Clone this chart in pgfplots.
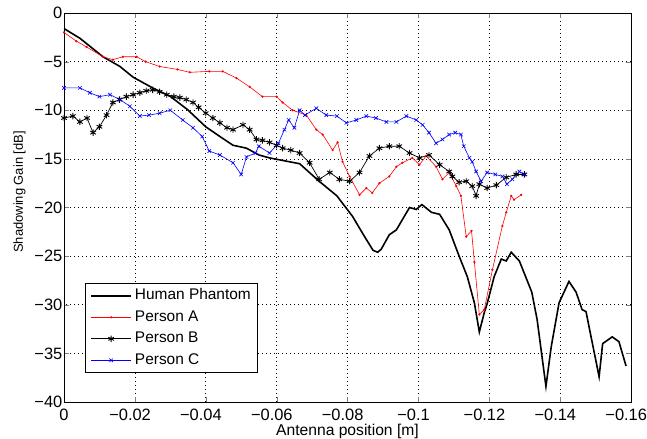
\documentclass[border=0pt]{standalone}
\usepackage{fontspec}
\setmainfont{Liberation Sans}
\usepackage{pgfplots}
\pgfplotsset{compat=1.18}
\newcommand{\m}{\llap{−}}
\begin{document}
\begin{tikzpicture}
\begin{axis}[
    at={(0,0)}, anchor=south west,
    scale only axis, width=567bp, height=389bp,
    xmin=-0.16, xmax=0, ymin=-40, ymax=0,
    x dir=reverse,
    xtick={-0.16,-0.14,-0.12,-0.1,-0.08,-0.06,-0.04,-0.02,0},
    xticklabels={\m0.16,\m0.14,\m0.12,\m0.1,\m0.08,\m0.06,\m0.04,\m0.02,0},
    ytick={-40,-35,-30,-25,-20,-15,-10,-5,0},
    yticklabels={−40,−35,−30,−25,−20,−15,−10,−5,0},
    grid=major,
    major grid style={black, line width=0.6bp, dash pattern=on 1bp off 3bp},
    tick align=inside, tick pos=both, major tick length=5bp,
    axis line style={line width=0.8bp},
    tick label style={font=\fontsize{16.5}{19}\selectfont},
    yticklabel style={inner xsep=1.5bp},
    xticklabel style={inner ysep=4bp, yshift=-2.5bp},
    xlabel={Antenna position [m]},
    xlabel style={font=\fontsize{15.7}{18}\selectfont, yshift=4bp},
    ylabel={Shadowing Gain [dB]},
    ylabel style={font=\fontsize{13}{15}\selectfont,
        at={(axis description cs:-0.0785,0.54)}, anchor=center},
    legend cell align=left,
    legend style={at={(axis description cs:0.037,0.074)}, anchor=south west,
        draw=black, line width=0.8bp, font=\fontsize{15.5}{18}\selectfont,
        inner xsep=5bp, inner ysep=3.5bp, row sep=3.5bp, column sep=1bp,
        nodes={inner sep=2bp, text height=11bp, text depth=3bp}},
    legend image code/.code={%
        \draw[mark repeat=2,mark phase=2] plot coordinates {(0bp,0bp) (20bp,0bp) (40bp,0bp)};},
]
% Human Phantom
\addplot[black, line width=1.6bp] coordinates {
(0,-1.6) (-0.0045,-2.6) (-0.011,-4.5) (-0.0158,-5.5) (-0.0195,-6.6)
(-0.025,-7.7) (-0.0301,-8.6) (-0.0349,-9.95) (-0.040,-11.7) (-0.044,-12.7)
(-0.0477,-13.6) (-0.0515,-13.9) (-0.055,-14.6) (-0.058,-14.9) (-0.0665,-15.5)
(-0.072,-17.3) (-0.077,-18.8) (-0.0814,-20.9) (-0.0845,-22.8) (-0.0872,-24.4)
(-0.0885,-24.6) (-0.0895,-24.3) (-0.0918,-22.8) (-0.0938,-22.3) (-0.0975,-20.0)
(-0.0994,-20.2) (-0.101,-19.7) (-0.1037,-20.5) (-0.106,-20.7) (-0.1087,-22.3)
(-0.1115,-25.0) (-0.1138,-27.1) (-0.1158,-29.8) (-0.1172,-32.8) (-0.1186,-30.8)
(-0.1194,-29.9) (-0.1214,-27.1) (-0.1234,-25.3) (-0.1248,-25.5) (-0.1262,-24.6)
(-0.1285,-25.5) (-0.132,-28.7) (-0.1335,-31.5) (-0.136,-38.4) (-0.1375,-34.3)
(-0.1397,-29.8) (-0.1425,-27.6) (-0.1445,-28.7) (-0.1462,-30.5) (-0.1473,-30.7)
(-0.151,-37.4) (-0.152,-34.0) (-0.1547,-33.3) (-0.1566,-33.8) (-0.1586,-36.3)
};
\addlegendentry{Human Phantom\hspace{12bp}}
% Person A
\addplot[red, line width=0.6bp, mark=*, mark size=0.8bp] coordinates {
(0,-2.0) (-0.0035,-2.9) (-0.0064,-3.5) (-0.011,-4.5) (-0.0138,-4.8)
(-0.0166,-4.5) (-0.0205,-4.5) (-0.023,-5.0) (-0.027,-5.5) (-0.032,-5.8)
(-0.0355,-6.1) (-0.041,-6.0) (-0.0448,-6.0) (-0.0487,-6.7) (-0.0524,-7.6)
(-0.056,-8.6) (-0.060,-8.6) (-0.0617,-9.2) (-0.0645,-10.0) (-0.0684,-10.5)
(-0.0712,-12.0) (-0.073,-12.5) (-0.0758,-14.1) (-0.0772,-13.3) (-0.0786,-15.3)
(-0.0806,-16.8) (-0.0834,-18.7) (-0.0853,-18.0) (-0.087,-18.5) (-0.089,-17.5)
(-0.0918,-16.8) (-0.0938,-15.8) (-0.0955,-15.4) (-0.0983,-14.9) (-0.1003,-15.6)
(-0.1022,-14.7) (-0.105,-15.8) (-0.1068,-17.1) (-0.1087,-16.4) (-0.1107,-17.8)
(-0.112,-18.8) (-0.1135,-23.0) (-0.115,-22.4) (-0.1158,-25.6) (-0.1172,-31.0)
(-0.1186,-30.5) (-0.1209,-26.4) (-0.1237,-21.9) (-0.1248,-20.5) (-0.1262,-18.8)
(-0.127,-19.2) (-0.129,-18.7)
};
\addlegendentry{Person A}
% Person B
\addplot[black, line width=0.7bp, mark=asterisk, mark size=3.2bp,
    mark options={line width=0.9bp}] coordinates {
(0,-10.8) (-0.0025,-10.6) (-0.0045,-11.2) (-0.0065,-10.8) (-0.0082,-12.3)
(-0.010,-11.7) (-0.012,-10.5) (-0.0138,-9.2) (-0.0157,-8.9) (-0.0176,-8.6)
(-0.0195,-8.4) (-0.0214,-8.2) (-0.0232,-8.0) (-0.025,-7.9) (-0.027,-8.1)
(-0.029,-8.4) (-0.031,-8.6) (-0.0327,-8.7) (-0.0345,-8.9) (-0.0364,-9.2)
(-0.038,-9.7) (-0.040,-10.3) (-0.042,-10.8) (-0.044,-11.3) (-0.046,-11.8)
(-0.0477,-12.0) (-0.0505,-11.5) (-0.0524,-12.0) (-0.0543,-13.0) (-0.056,-13.1)
(-0.058,-13.3) (-0.060,-13.6) (-0.0617,-13.9) (-0.064,-14.1) (-0.0665,-14.4)
(-0.0693,-15.4) (-0.072,-17.1) (-0.075,-16.4) (-0.0777,-17.1) (-0.0806,-17.3)
(-0.0834,-16.4) (-0.0862,-14.7) (-0.089,-13.9) (-0.0918,-13.7) (-0.0946,-13.7)
(-0.0975,-14.4) (-0.1003,-14.9) (-0.103,-14.6) (-0.106,-15.6) (-0.1087,-16.3)
(-0.1096,-16.8) (-0.1115,-17.4) (-0.1135,-17.3) (-0.1152,-17.8) (-0.1163,-18.8)
(-0.1172,-17.6) (-0.1194,-18.0) (-0.122,-17.7) (-0.1248,-16.9) (-0.1276,-16.6)
(-0.1299,-16.6)
};
\addlegendentry{Person B}
% Person C
\addplot[blue, line width=0.6bp, mark=x, mark size=2.5bp] coordinates {
(0,-7.7) (-0.0045,-7.7) (-0.0073,-8.2) (-0.010,-8.6) (-0.013,-8.4)
(-0.0158,-8.9) (-0.0186,-9.6) (-0.0214,-10.6) (-0.024,-10.5) (-0.027,-10.3)
(-0.030,-10.0) (-0.0335,-11.0) (-0.0364,-11.8) (-0.039,-12.7) (-0.041,-14.2)
(-0.044,-14.6) (-0.0477,-15.4) (-0.050,-16.6) (-0.0515,-14.8) (-0.054,-14.4)
(-0.055,-13.7) (-0.058,-14.4) (-0.0605,-13.4) (-0.0622,-12.0) (-0.0634,-11.0)
(-0.065,-11.8) (-0.0665,-10.0) (-0.068,-10.5) (-0.0712,-9.8) (-0.074,-10.5)
(-0.077,-10.6) (-0.0797,-11.3) (-0.0825,-11.0) (-0.0853,-10.6) (-0.088,-10.8)
(-0.091,-11.2) (-0.0938,-11.2) (-0.0966,-10.6) (-0.0994,-11.0) (-0.1012,-11.5)
(-0.103,-12.3) (-0.105,-13.4) (-0.1068,-13.0) (-0.1087,-12.5) (-0.1104,-12.3)
(-0.112,-12.5) (-0.1128,-13.7) (-0.1144,-14.9) (-0.1152,-15.3) (-0.1163,-16.3)
(-0.1177,-17.3) (-0.1194,-16.4) (-0.1217,-16.6) (-0.1237,-16.8) (-0.125,-17.6)
(-0.1265,-17.1) (-0.1285,-16.3) (-0.1299,-16.6)
};
\addlegendentry{Person C}
\end{axis}
\pgfresetboundingbox
\path[use as bounding box] (-64bp,-37bp) rectangle (583bp,402bp);
\end{tikzpicture}
\end{document}
